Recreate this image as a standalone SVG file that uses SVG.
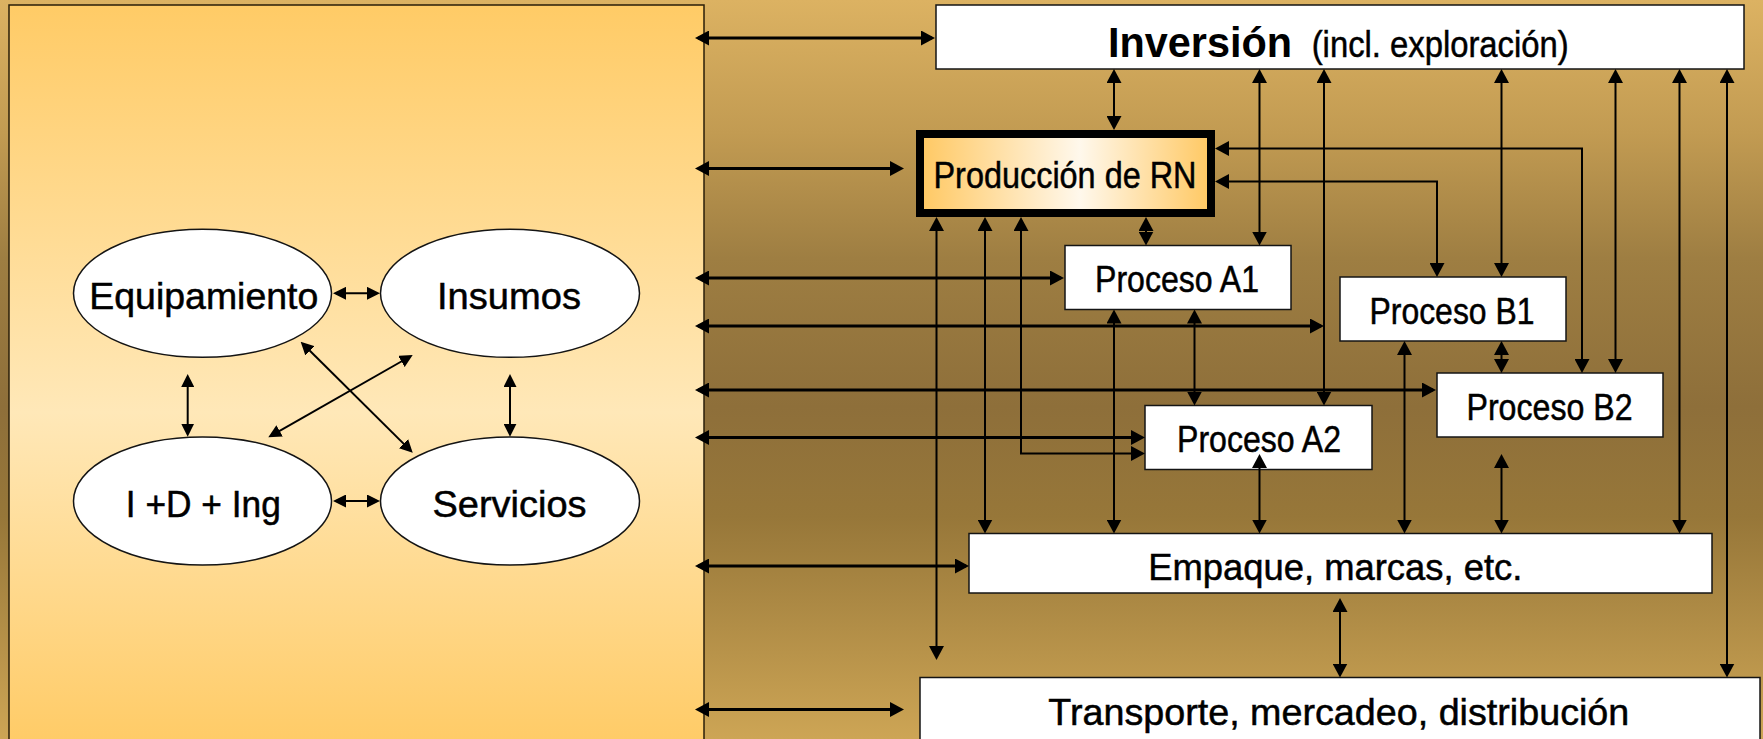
<svg xmlns="http://www.w3.org/2000/svg" width="1763" height="739" viewBox="0 0 1763 739">
<defs>
<linearGradient id="bg" x1="0" y1="0" x2="0" y2="1">
<stop offset="0" stop-color="#DCB262"/>
<stop offset="0.18" stop-color="#C29B52"/>
<stop offset="0.35" stop-color="#9E7E42"/>
<stop offset="0.55" stop-color="#8E6F3A"/>
<stop offset="0.7" stop-color="#977739"/>
<stop offset="1" stop-color="#CDA555"/>
</linearGradient>
<linearGradient id="panel" x1="0" y1="0" x2="0" y2="1">
<stop offset="0" stop-color="#FFCB66"/>
<stop offset="0.55" stop-color="#FFE8B8"/>
<stop offset="1" stop-color="#FFCB66"/>
</linearGradient>
<linearGradient id="prod" x1="0" y1="0" x2="1" y2="0">
<stop offset="0" stop-color="#FFC862"/>
<stop offset="0.55" stop-color="#FFF8EC"/>
<stop offset="1" stop-color="#FFC862"/>
</linearGradient>
<marker id="ah" markerUnits="userSpaceOnUse" markerWidth="14" markerHeight="15" refX="11" refY="7.5" orient="auto-start-reverse" viewBox="0 0 14 15">
<path d="M0,0 L14,7.5 L0,15 z" fill="#000"/>
</marker>
<marker id="ahs" markerUnits="userSpaceOnUse" markerWidth="13" markerHeight="13" refX="10" refY="6.5" orient="auto-start-reverse" viewBox="0 0 13 13">
<path d="M0,0 L13,6.5 L0,13 z" fill="#000"/>
</marker>
</defs>
<style>
.box{fill:#fff;stroke:#141414;stroke-width:1.5}
.ell{fill:#fff;stroke:#141414;stroke-width:1.5}
.t{font-family:"Liberation Sans",Arial,sans-serif;font-size:37px;fill:#000;stroke:#000;stroke-width:0.5}
.tb{font-family:"Liberation Sans",Arial,sans-serif;font-size:43px;font-weight:bold;fill:#000}
.thick{stroke:#000;stroke-width:3.2;fill:none;marker-start:url(#ah);marker-end:url(#ah)}
.thin{stroke:#000;stroke-width:2;fill:none;marker-start:url(#ah);marker-end:url(#ah)}
.small{stroke:#000;stroke-width:2;fill:none;marker-start:url(#ahs);marker-end:url(#ahs)}
</style>
<rect x="0" y="0" width="1763" height="739" fill="url(#bg)"/>
<rect id="left-panel" x="9" y="5" width="695" height="740" fill="url(#panel)" stroke="#2a1e08" stroke-width="1.5"/>

<g id="node-equipamiento">
<ellipse class="ell" cx="202.5" cy="293.3" rx="129" ry="64"/>
<text class="t" x="203.8" y="309.3" text-anchor="middle" font-size="42" textLength="229" lengthAdjust="spacingAndGlyphs">Equipamiento</text>
</g>
<g id="node-insumos">
<ellipse class="ell" cx="510" cy="293.3" rx="129.5" ry="64"/>
<text class="t" x="509" y="309.3" text-anchor="middle" font-size="42" textLength="144" lengthAdjust="spacingAndGlyphs">Insumos</text>
</g>
<g id="node-ide">
<ellipse class="ell" cx="202.5" cy="501" rx="129" ry="64"/>
<text class="t" x="203.3" y="516.7" text-anchor="middle" font-size="42" textLength="155" lengthAdjust="spacingAndGlyphs">I +D + Ing</text>
</g>
<g id="node-servicios">
<ellipse class="ell" cx="510" cy="501" rx="129.5" ry="64"/>
<text class="t" x="509.5" y="516.7" text-anchor="middle" font-size="42" textLength="154" lengthAdjust="spacingAndGlyphs">Servicios</text>
</g>

<g id="node-inversion">
<rect class="box" x="936" y="5" width="808" height="64"/>
<text class="tb" x="1108" y="56.7" textLength="184" lengthAdjust="spacingAndGlyphs">Inversión</text>
<text class="t" x="1311.7" y="56.7" font-size="41" textLength="257" lengthAdjust="spacingAndGlyphs">(incl. exploración)</text>
</g>
<g id="node-produccion">
<rect x="920" y="134" width="291" height="79" fill="url(#prod)" stroke="#000" stroke-width="8"/>
<text class="t" x="1065" y="188.3" text-anchor="middle" font-size="40" textLength="263" lengthAdjust="spacingAndGlyphs">Producción de RN</text>
</g>
<g id="node-a1">
<rect class="box" x="1065" y="245.5" width="226" height="64"/>
<text class="t" x="1177" y="291.7" text-anchor="middle" textLength="164" lengthAdjust="spacingAndGlyphs">Proceso A1</text>
</g>
<g id="node-b1">
<rect class="box" x="1340" y="277" width="226" height="64"/>
<text class="t" x="1452" y="324" text-anchor="middle" textLength="165" lengthAdjust="spacingAndGlyphs">Proceso B1</text>
</g>
<g id="node-a2">
<rect class="box" x="1145" y="405.5" width="227" height="64"/>
<text class="t" x="1259" y="451.7" text-anchor="middle" textLength="164" lengthAdjust="spacingAndGlyphs">Proceso A2</text>
</g>
<g id="node-b2">
<rect class="box" x="1437" y="373" width="226" height="64"/>
<text class="t" x="1549.5" y="420" text-anchor="middle" textLength="166" lengthAdjust="spacingAndGlyphs">Proceso B2</text>
</g>
<g id="node-empaque">
<rect class="box" x="969" y="533.5" width="743" height="59.5"/>
<text class="t" x="1148.3" y="580" font-size="41" textLength="374" lengthAdjust="spacingAndGlyphs">Empaque, marcas, etc.</text>
</g>
<g id="node-transporte">
<rect class="box" x="920" y="677.5" width="840" height="80"/>
<text class="t" x="1048.3" y="725" font-size="41" textLength="581" lengthAdjust="spacingAndGlyphs">Transporte, mercadeo, distribución</text>
</g>

<g id="connectors">
<line class="thick" x1="698" y1="38" x2="932" y2="38"/>
<line class="thick" x1="698" y1="168.5" x2="901" y2="168.5"/>
<line class="thick" x1="698" y1="278" x2="1061" y2="278"/>
<line class="thick" x1="698" y1="326" x2="1321" y2="326"/>
<line class="thick" x1="698" y1="390" x2="1433" y2="390"/>
<line class="thick" x1="698" y1="437.5" x2="1142" y2="437.5"/>
<line class="thick" x1="698" y1="566" x2="966" y2="566"/>
<line class="thick" x1="698" y1="709.5" x2="901" y2="709.5"/>

<line class="thin" x1="1114" y1="72" x2="1114" y2="127"/>
<line class="thin" x1="1259.5" y1="72" x2="1259.5" y2="242.5"/>
<line class="thin" x1="1324" y1="72" x2="1324" y2="402.5"/>
<line class="thin" x1="1501.5" y1="72" x2="1501.5" y2="274"/>
<line class="thin" x1="1615.5" y1="72" x2="1615.5" y2="370"/>
<line class="thin" x1="1679.5" y1="72" x2="1679.5" y2="530.5"/>
<line class="thin" x1="1727" y1="72" x2="1727" y2="674.5"/>

<line class="thin" x1="936.5" y1="220" x2="936.5" y2="657"/>
<line class="thin" x1="985" y1="220" x2="985" y2="530.5"/>
<path class="thin" d="M1021,220 V453.5 H1142"/>
<line class="thin" x1="1146" y1="220" x2="1146" y2="242.5"/>
<path class="thin" d="M1218,148.5 H1582 V370"/>
<path class="thin" d="M1218,181.5 H1437 V274"/>

<line class="thin" x1="1114" y1="312.5" x2="1114" y2="530.5"/>
<line class="thin" x1="1194.5" y1="312.5" x2="1194.5" y2="402.5"/>
<line class="thin" x1="1404.5" y1="344" x2="1404.5" y2="530.5"/>
<line class="thin" x1="1501.5" y1="344" x2="1501.5" y2="370"/>
<line class="thin" x1="1259.5" y1="457" x2="1259.5" y2="530.5"/>
<line class="thin" x1="1501.5" y1="457" x2="1501.5" y2="530.5"/>
<line class="thin" x1="1340" y1="601" x2="1340" y2="674.5"/>

<line class="small" x1="336" y1="293.3" x2="377" y2="293.3"/>
<line class="small" x1="336" y1="501" x2="377" y2="501"/>
<line class="small" x1="187.7" y1="377" x2="187.7" y2="433.7"/>
<line class="small" x1="510" y1="377" x2="510" y2="433.7"/>
<line class="small" x1="302.8" y1="343.8" x2="410.6" y2="450.6"/>
<line class="small" x1="270.9" y1="435.8" x2="410.1" y2="356.5"/>
</g>
</svg>
